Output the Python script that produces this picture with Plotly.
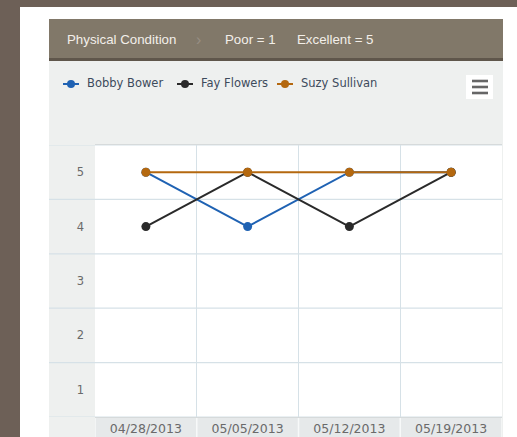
import plotly.graph_objects as go

dates = ["04/28/2013", "05/05/2013", "05/12/2013", "05/19/2013"]
series_names = ["Bobby Bower", "Fay Flowers", "Suzy Sullivan"]
bobby = [5, 4, 5, 5]
fay = [4, 5, 4, 5]
suzy = [5, 5, 5, 5]
series_values = [bobby, fay, suzy]
series_colors = ["#1f62b3", "#2a2a2a", "#b4680f"]
y_levels = [1, 2, 3, 4, 5]
header_title = "Physical Condition"
header_poor = "Poor = 1"
header_excellent = "Excellent = 5"

W, H = 517, 437
L, R, T, B = 95, 15, 145, 20
PW = W - L - R
PH = H - T - B


def px(x):
    return (x - L) / PW


def py(y):
    return (H - B - y) / PH


fig = go.Figure()
for name, vals, col in zip(series_names, series_values, series_colors):
    fig.add_trace(go.Scatter(
        x=dates, y=vals, name=name, mode="lines+markers",
        line=dict(color=col, width=2),
        marker=dict(color=col, size=9),
        showlegend=False,
    ))

shapes = []
# white panel
shapes.append(dict(type="rect", xref="paper", yref="paper", x0=px(20), x1=px(W + 5),
                   y0=py(7), y1=py(H + 5), fillcolor="#ffffff", line_width=0, layer="below"))
# header bar
shapes.append(dict(type="rect", xref="paper", yref="paper", x0=px(49), x1=px(503),
                   y0=py(19), y1=py(58), fillcolor="#817869", line_width=0, layer="below"))
shapes.append(dict(type="rect", xref="paper", yref="paper", x0=px(49), x1=px(503),
                   y0=py(58), y1=py(61), fillcolor="#5f564b", line_width=0, layer="below"))
# grey panel
shapes.append(dict(type="rect", xref="paper", yref="paper", x0=px(49), x1=px(503),
                   y0=py(61), y1=py(H + 5), fillcolor="#eef0ef", line_width=0, layer="below"))
# plot area
shapes.append(dict(type="rect", xref="paper", yref="paper", x0=0, x1=1,
                   y0=0, y1=1, fillcolor="#ffffff", line_width=0, layer="below"))
# x label band
shapes.append(dict(type="rect", xref="paper", yref="paper", x0=0, x1=1,
                   y0=py(H + 5), y1=0, fillcolor="#e6e9ea", line_width=0, layer="below"))
for i in range(len(dates) + 1):
    shapes.append(dict(type="line", xref="x", yref="paper", x0=i - 0.5, x1=i - 0.5,
                       y0=py(H + 5), y1=0, line=dict(color="#f7f9f9", width=1.5), layer="below"))
# horizontal grid lines across label band
for v in [y_levels[0] - 0.5] + [lv + 0.5 for lv in y_levels]:
    shapes.append(dict(type="line", xref="paper", yref="y", x0=px(49), x1=1,
                       y0=v, y1=v, line=dict(color="#d6e1e7", width=1.2), layer="below"))
# menu button
shapes.append(dict(type="rect", xref="paper", yref="paper", x0=px(466), x1=px(493),
                   y0=py(99), y1=py(75), fillcolor="#ffffff", line_width=0, layer="below"))
for yy in [81, 87, 93]:
    shapes.append(dict(type="line", xref="paper", yref="paper", x0=px(472), x1=px(488),
                       y0=py(yy), y1=py(yy), line=dict(color="#666666", width=2.6)))

annotations = []
hdr_font = dict(family="Liberation Sans, Arial", size=13.3, color="#f3efe9")
annotations.append(dict(xref="paper", yref="paper", x=px(65), y=py(39), text=header_title,
                        showarrow=False, xanchor="left", yanchor="middle", font=hdr_font))
annotations.append(dict(xref="paper", yref="paper", x=px(198), y=py(39), text="›",
                        showarrow=False, xanchor="center", yanchor="middle",
                        font=dict(family="Liberation Sans, Arial", size=16, color="#978e83")))
annotations.append(dict(xref="paper", yref="paper", x=px(223), y=py(39), text=header_poor,
                        showarrow=False, xanchor="left", yanchor="middle", font=hdr_font))
annotations.append(dict(xref="paper", yref="paper", x=px(295), y=py(39), text=header_excellent,
                        showarrow=False, xanchor="left", yanchor="middle", font=hdr_font))

# custom legend
leg_x = [63, 177, 277]
for name, col, lx in zip(series_names, series_colors, leg_x):
    shapes.append(dict(type="line", xref="paper", yref="paper", x0=px(lx), x1=px(lx + 16),
                       y0=py(84), y1=py(84), line=dict(color=col, width=2)))
    shapes.append(dict(type="circle", xref="paper", yref="paper", x0=px(lx + 4), x1=px(lx + 12),
                       y0=py(88), y1=py(80), fillcolor=col, line_width=0))
    annotations.append(dict(xref="paper", yref="paper", x=px(lx + 22), y=py(83), text=name,
                            showarrow=False, xanchor="left", yanchor="middle",
                            font=dict(family="DejaVu Sans", size=11.5, color="#3d4b5c")))

fig.update_layout(
    width=W, height=H,
    margin=dict(l=L, r=R, t=T, b=B),
    paper_bgcolor="#6d6057",
    plot_bgcolor="#ffffff",
    shapes=shapes,
    annotations=annotations,
    xaxis=dict(
        type="category", categoryorder="array", categoryarray=dates,
        tickson="boundaries", showgrid=True, gridcolor="#d6e1e7", gridwidth=1.2,
        ticks="", showline=True, linecolor="#d6dadb", mirror=True,
        tickfont=dict(family="DejaVu Sans", size=12.5, color="#6a6a6a"),
        range=[-0.5, len(dates) - 0.5], fixedrange=True, automargin=False,
    ),
    yaxis=dict(
        range=[0.5, 5.5], tickvals=y_levels, ticktext=[str(v) for v in y_levels],
        showgrid=False, zeroline=False, ticks="", showline=False,
        tickfont=dict(family="DejaVu Sans", size=11.5, color="#6a6a6a"),
        ticklabelstandoff=10, fixedrange=True, automargin=False,
    ),
    showlegend=False,
)

fig.write_html("out.html", config={"displayModeBar": False},
               post_script="document.body.style.margin='0';document.body.style.overflow='hidden';")
